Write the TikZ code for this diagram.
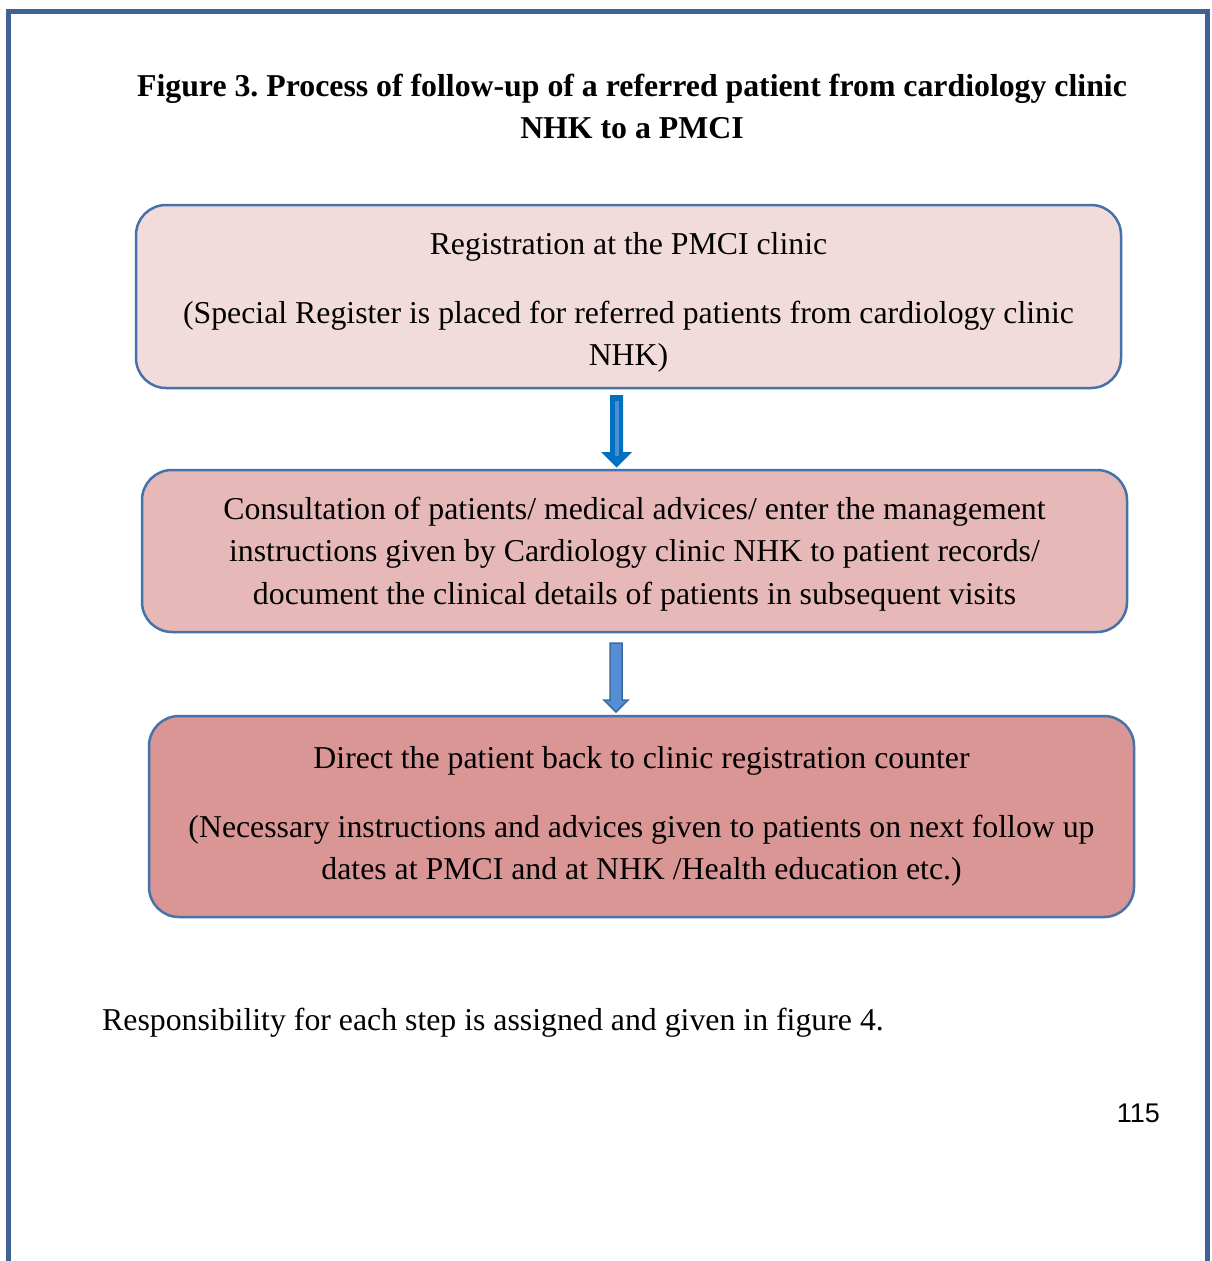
\documentclass[tikz,border=0pt]{standalone}
\usepackage{fontspec}
\setmainfont{Liberation Serif}
\newfontfamily\numfont{Liberation Sans}
\frenchspacing
\definecolor{frameblue}{HTML}{3F6396}
\definecolor{edgeblue}{HTML}{4672AA}
\definecolor{pinkA}{HTML}{F2DCDB}
\definecolor{pinkB}{HTML}{E6B9B8}
\definecolor{pinkC}{HTML}{D99694}
\definecolor{arrowA}{HTML}{0070C0}
\definecolor{arrowAlight}{HTML}{4E8ED0}
\definecolor{arrowB}{HTML}{558ED5}
\definecolor{arrowBedge}{HTML}{3D6A9E}
\begin{document}
\begin{tikzpicture}[x=1pt,y=-1pt,
  bodytext/.style={font=\fontsize{31.8}{42.5}\selectfont},
  stepbox/.style={draw=edgeblue, line width=2.5pt, rounded corners=30pt,
    minimum width=985pt, align=center, inner sep=0pt, bodytext},
  blockarrow/.style={line join=miter},
]
\useasboundingbox (0,0) rectangle (1211,1261);
\fill[white] (0,0) rectangle (1211,1261);

% page frame, open at the bottom
\draw[frameblue, line width=5pt] (8.5,1270) -- (8.5,11.5) -- (1207.5,11.5) -- (1207.5,1270);

% caption
\node[align=center, inner sep=0pt, font=\fontsize{31.8}{42}\selectfont\bfseries] (title) at (632,106)
  {Figure 3. Process of follow-up of a referred patient from cardiology clinic\\NHK to a PMCI};

% process steps
\node[stepbox, fill=pinkA, minimum height=183pt] (reg) at (628.5,296.5)
  {\rule{0pt}{34pt}Registration at the PMCI clinic\\[26.5pt](Special Register is placed for referred patients from cardiology clinic\\NHK)};
\node[stepbox, fill=pinkB, minimum height=162pt] (consult) at (634.5,551)
  {\rule{0pt}{28pt}Consultation of patients/ medical advices/ enter the management\\instructions given by Cardiology clinic NHK to patient records/\\document the clinical details of patients in subsequent visits};
\node[stepbox, fill=pinkC, minimum height=201pt] (direct) at (641.5,816.5)
  {Direct the patient back to clinic registration counter\\[26.5pt](Necessary instructions and advices given to patients on next follow up\\dates at PMCI and at NHK /Health education etc.)};

% block arrows between the steps
\fill[arrowA, blockarrow] (610,395) -- (623,395) -- (623,452) -- (632,452) -- (616.5,467.5)
  -- (601,452) -- (610,452) -- cycle;
\fill[arrowAlight] (615,401) rectangle (618.5,456);
\filldraw[fill=arrowB, draw=arrowBedge, line width=1.5pt, blockarrow]
  (610,643) -- (622,643) -- (622,700) -- (628,700) -- (616,712) -- (604,700) -- (610,700) -- cycle;

% closing remark and page number
\node[anchor=base west, inner sep=0pt, bodytext] (note) at (102,1030)
  {Responsibility for each step is assigned and given in figure 4.};
\node[anchor=base east, inner sep=0pt, font=\fontsize{27}{32}\numfont] (page) at (1160,1122) {115};
\end{tikzpicture}
\end{document}
